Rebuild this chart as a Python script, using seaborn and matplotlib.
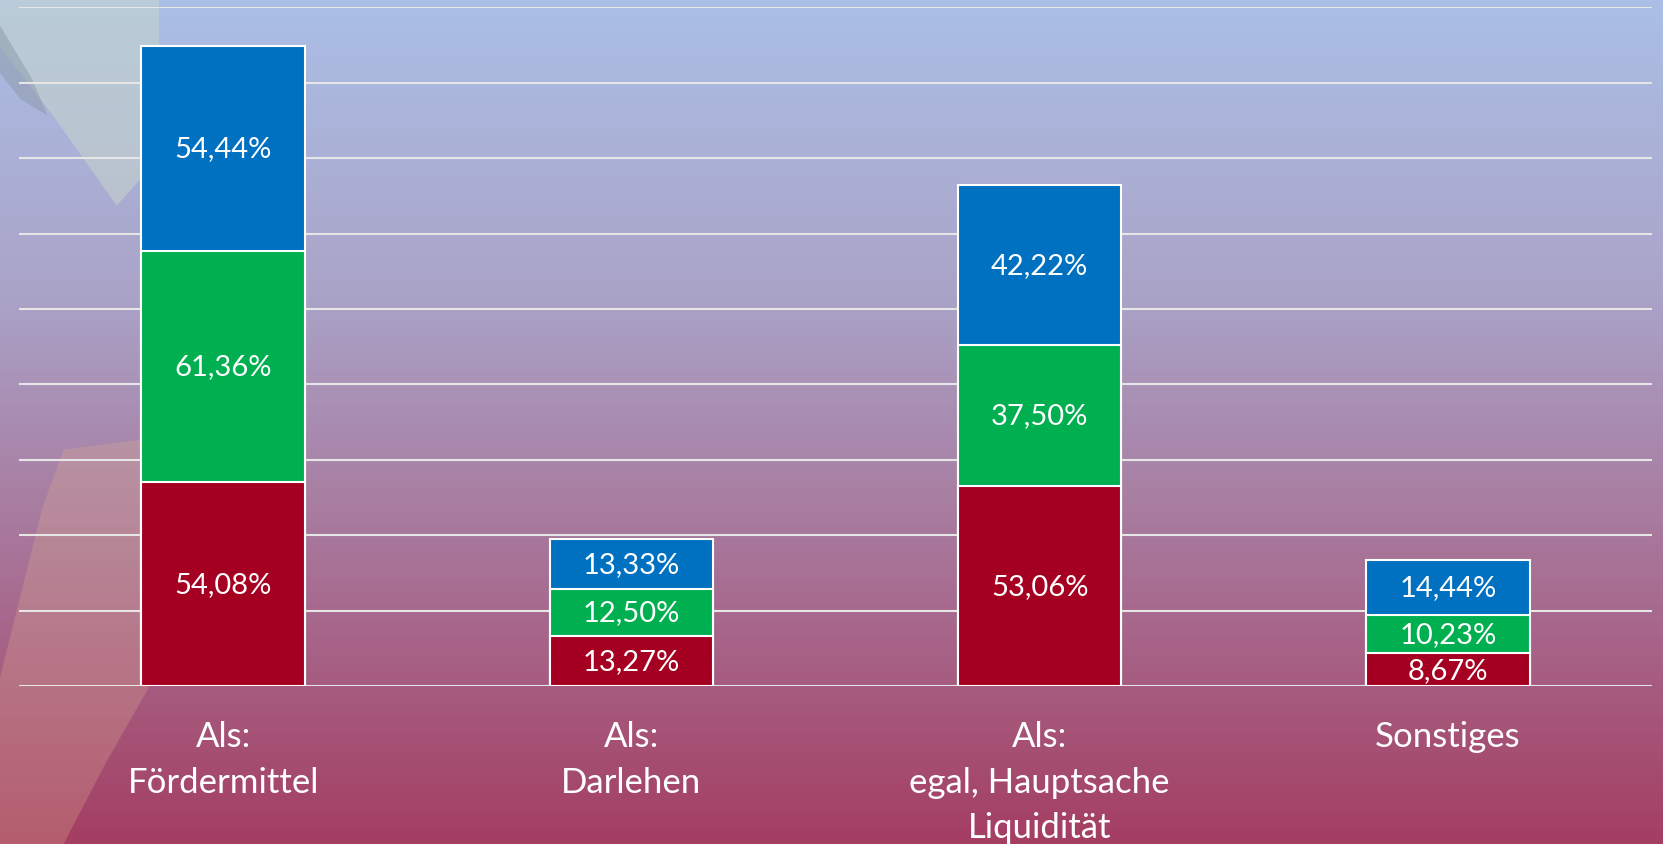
"""
Gestapeltes Balkendiagramm: Finanzierungsarten (Nachbau)
"""
import matplotlib
matplotlib.use("Agg")
import matplotlib.pyplot as plt
from matplotlib.colors import LinearSegmentedColormap
from matplotlib.patches import Polygon
import seaborn as sns
import numpy as np
import pandas as pd

# Daten
kategorien = ["Als:\nFördermittel", "Als:\nDarlehen", "Als:\negal, Hauptsache\nLiquidität", "Sonstiges"]
serie_rot = [54.08, 13.27, 53.06, 8.67]
serie_gruen = [61.36, 12.50, 37.50, 10.23]
serie_blau = [54.44, 13.33, 42.22, 14.44]

farben = {"rot": "#A50021", "gruen": "#00B050", "blau": "#0070C0"}

sns.set_style("white")
plt.rcParams["font.family"] = ["Lato", "DejaVu Sans"]

fig = plt.figure(figsize=(16.63, 8.45), dpi=100)

# Hintergrund mit Farbverlauf
bg = fig.add_axes([0, 0, 1, 1], zorder=0)
verlauf = LinearSegmentedColormap.from_list(
    "bg", [(0.0, "#ABBFE6"), (0.35, "#AAA3C8"), (0.62, "#A87A9E"), (1.0, "#A43E62")])
bg.imshow(np.linspace(0, 1, 256).reshape(-1, 1), aspect="auto", cmap=verlauf,
          extent=[0, 1, 0, 1], origin="upper")


def fl(punkte):
    # Pixel (1568x797) -> Figurenanteile
    return [[x / 1568, 1 - y / 797] for x, y in punkte]


# dekorative Flächen links
bg.add_patch(Polygon(fl([(0, 0), (150, 0), (150, 150), (110, 195), (50, 110), (0, 45)]),
                     closed=True, color="#C9D9CC", alpha=0.5, lw=0))
bg.add_patch(Polygon(fl([(0, 25), (30, 75), (45, 110), (20, 95), (0, 70)]),
                     closed=True, color="#8E9AA8", alpha=0.5, lw=0))
bg.add_patch(Polygon(fl([(60, 425), (140, 415), (140, 650), (100, 720), (60, 797), (0, 797),
                         (0, 640), (20, 560), (40, 480)]),
                     closed=True, color="#E0B090", alpha=0.28, lw=0))
bg.set_xlim(0, 1)
bg.set_ylim(0, 1)
bg.axis("off")

ax = fig.add_axes([0.0114, 0.187, 0.982, 0.803], zorder=1)
ax.patch.set_alpha(0)

df = pd.DataFrame({
    "kategorie": kategorien,
    "rot": serie_rot,
    "gruen": serie_gruen,
    "blau": serie_blau,
})
df["bis_gruen"] = df["rot"] + df["gruen"]
df["bis_blau"] = df["bis_gruen"] + df["blau"]

# Stapel von oben nach unten zeichnen, damit sich die Segmente überdecken
for spalte, farbe in [("bis_blau", farben["blau"]), ("bis_gruen", farben["gruen"]), ("rot", farben["rot"])]:
    sns.barplot(data=df, x="kategorie", y=spalte, color=farbe, width=0.4,
                edgecolor="white", linewidth=1.5, saturation=1, ax=ax, zorder=3)

# Beschriftungen
for i, row in df.iterrows():
    for unten, wert in [(0, row["rot"]), (row["rot"], row["gruen"]), (row["bis_gruen"], row["blau"])]:
        ax.text(i, unten + wert / 2, f"{wert:.2f}%".replace(".", ","), ha="center", va="center",
                color="white", fontsize=21, zorder=5)

ax.set_ylim(0, 180)
ax.set_xlim(-0.5, 3.5)
ax.set_yticks(np.arange(0, 181, 20))
ax.yaxis.grid(True, color="#E6E6E6", linewidth=1.5, zorder=0)
ax.set_axisbelow(True)
ax.tick_params(axis="y", left=False, labelleft=False)
ax.tick_params(axis="x", bottom=False, pad=21, labelsize=25, labelcolor="white")
ax.set_xticks(range(len(kategorien)))
ax.set_xticklabels(kategorien, linespacing=1.52, va="top")
ax.set_xlabel("")
ax.set_ylabel("")
for s in ax.spines.values():
    s.set_visible(False)

fig.savefig("out.png", dpi=100)
